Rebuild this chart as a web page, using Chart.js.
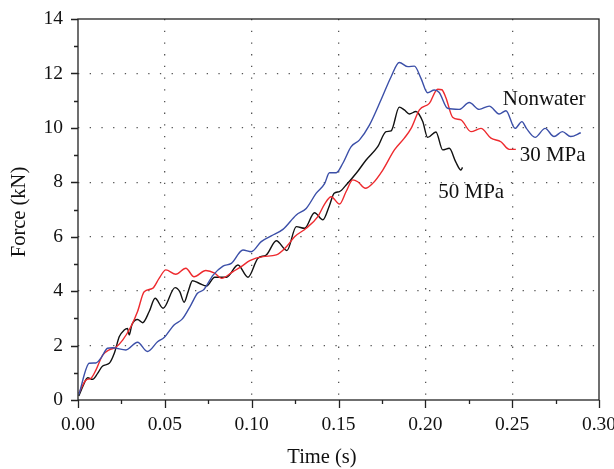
<!DOCTYPE html>
<html>
<head>
<meta charset="utf-8">
<script src="https://cdn.jsdelivr.net/npm/chart.js@4.4.1/dist/chart.umd.min.js"></script>
<style>
  html, body { margin: 0; padding: 0; background: #fff; }
  #wrap { width: 614px; height: 469px; }
</style>
</head>
<body>
<div id="wrap"><canvas id="forceChart" width="614" height="469"></canvas></div>
<script>
// Nonwater (blue)
const nonwaterTime = [0.0005, 0.0065, 0.0103, 0.0132, 0.017, 0.020, 0.0276, 0.0343, 0.040, 0.0458, 0.0496, 0.0553, 0.0601, 0.065, 0.0688, 0.0725, 0.0778, 0.0835, 0.0883, 0.095, 0.0998, 0.1055, 0.1113, 0.118, 0.1257, 0.1314, 0.1372, 0.142, 0.1448, 0.1487, 0.1525, 0.1573, 0.162, 0.1678, 0.1745, 0.1803, 0.185, 0.190, 0.1937, 0.1975, 0.2013, 0.2052, 0.208, 0.2128, 0.2195, 0.2253, 0.231, 0.2368, 0.2425, 0.2464, 0.2517, 0.2556, 0.2582, 0.2632, 0.269, 0.2741, 0.2789, 0.2837, 0.2895];
const nonwaterForce = [0.2, 1.35, 1.36, 1.54, 1.9, 1.92, 1.84, 2.12, 1.78, 2.14, 2.3, 2.76, 2.98, 3.49, 3.92, 4.06, 4.59, 4.92, 5.02, 5.51, 5.45, 5.82, 6.03, 6.27, 6.8, 7.04, 7.6, 7.95, 8.35, 8.35, 8.7, 9.31, 9.55, 10.1, 11.03, 11.88, 12.4, 12.25, 12.27, 11.82, 11.29, 11.39, 11.3, 10.72, 10.68, 10.93, 10.68, 10.8, 10.51, 10.63, 9.98, 10.23, 9.98, 9.65, 9.98, 9.68, 9.86, 9.68, 9.82];

// 30 MPa (red)
const mpa30Time = [0.0005, 0.0046, 0.0075, 0.0103, 0.0142, 0.018, 0.0218, 0.0257, 0.0305, 0.0343, 0.0381, 0.0429, 0.0467, 0.0506, 0.0563, 0.0621, 0.0668, 0.0736, 0.0787, 0.0826, 0.0893, 0.094, 0.0989, 0.1065, 0.1142, 0.120, 0.1247, 0.1314, 0.1381, 0.142, 0.1458, 0.1506, 0.1544, 0.1582, 0.1611, 0.1655, 0.1697, 0.1755, 0.1822, 0.1879, 0.1918, 0.1966, 0.2023, 0.2071, 0.2095, 0.2119, 0.2157, 0.2205, 0.2263, 0.232, 0.2378, 0.2435, 0.2483, 0.2521];
const mpa30Force = [0.25, 0.73, 0.8, 1.1, 1.65, 1.84, 1.94, 2.2, 2.7, 3.25, 3.98, 4.1, 4.47, 4.78, 4.62, 4.84, 4.53, 4.76, 4.66, 4.47, 4.72, 4.9, 5.12, 5.27, 5.33, 5.63, 6.0, 6.31, 6.74, 7.2, 7.47, 7.2, 7.66, 8.09, 8.02, 7.78, 7.96, 8.45, 9.19, 9.62, 9.98, 10.66, 10.9, 11.42, 11.4, 11.1, 10.39, 10.29, 9.86, 9.98, 9.62, 9.49, 9.21, 9.21];

// 50 MPa (black)
const mpa50Time = [0.0005, 0.0027, 0.0056, 0.0084, 0.0113, 0.0142, 0.018, 0.0209, 0.0238, 0.0266, 0.0285, 0.0295, 0.031, 0.0343, 0.0372, 0.041, 0.0444, 0.049, 0.0559, 0.0586, 0.0611, 0.0635, 0.0659, 0.0697, 0.074, 0.0787, 0.0855, 0.0921, 0.0979, 0.1036, 0.1084, 0.1142, 0.1203, 0.1257, 0.1305, 0.1362, 0.141, 0.1448, 0.1475, 0.1506, 0.1544, 0.1602, 0.1659, 0.1726, 0.1774, 0.1803, 0.185, 0.1879, 0.1908, 0.1946, 0.1985, 0.2013, 0.2061, 0.210, 0.2138, 0.2175, 0.2205, 0.2214];
const mpa50Force = [0.15, 0.49, 0.82, 0.76, 0.98, 1.25, 1.35, 1.72, 2.33, 2.57, 2.63, 2.39, 2.76, 2.96, 2.84, 3.25, 3.74, 3.37, 4.13, 3.98, 3.59, 4.0, 4.38, 4.29, 4.19, 4.51, 4.51, 4.96, 4.51, 5.21, 5.33, 5.85, 5.49, 6.37, 6.31, 6.88, 6.62, 7.15, 7.6, 7.66, 7.9, 8.33, 8.82, 9.31, 9.86, 9.89, 10.76, 10.66, 10.51, 10.6, 10.23, 9.65, 9.85, 9.19, 9.25, 8.75, 8.45, 8.55];

const seriesNames = ['Nonwater', '30 MPa', '50 MPa'];
// label anchors, in data units (time, force)
const labelTime = [0.2684, 0.2733, 0.2264];
const labelForce = [11.03, 9.0, 7.64];

const xTickLabels = ['0.00', '0.05', '0.10', '0.15', '0.20', '0.25', '0.30'];
const yTickLabels = ['0', '2', '4', '6', '8', '10', '12', '14'];

const serif = '"Liberation Serif", "DejaVu Serif", serif';

function toPoints(ts, fs) {
  return ts.map((t, i) => ({ x: t, y: fs[i] }));
}

function isMajorX(v) {
  const r = v / 0.05;
  return Math.abs(r - Math.round(r)) < 1e-6;
}

// frame, tick marks, axis titles and curve labels
const framePlugin = {
  id: 'frame',
  afterDraw(chart) {
    const { ctx, chartArea: a, scales: { x, y } } = chart;
    ctx.save();
    ctx.strokeStyle = '#222';
    ctx.lineWidth = 1.3;
    ctx.strokeRect(a.left, a.top, a.right - a.left, a.bottom - a.top);

    ctx.beginPath();
    for (let i = 0; i <= 12; i++) {
      const v = i * 0.025;
      const px = Math.round(x.getPixelForValue(v)) + 0.5;
      ctx.moveTo(px, a.bottom);
      ctx.lineTo(px, a.bottom + (i % 2 === 0 ? 8 : 4));
    }
    for (let i = 0; i <= 14; i++) {
      const py = Math.round(y.getPixelForValue(i)) + 0.5;
      ctx.moveTo(a.left, py);
      ctx.lineTo(a.left - (i % 2 === 0 ? 7 : 4), py);
    }
    ctx.stroke();

    ctx.fillStyle = '#111';
    ctx.font = '20.5px ' + serif;
    ctx.textAlign = 'center';
    ctx.textBaseline = 'alphabetic';
    ctx.fillText('Time (s)', 322, 463);

    ctx.save();
    ctx.translate(25, 212);
    ctx.rotate(-Math.PI / 2);
    ctx.fillText('Force (kN)', 0, 0);
    ctx.restore();

    ctx.font = '21px ' + serif;
    ctx.textBaseline = 'middle';
    seriesNames.forEach((name, i) => {
      ctx.fillText(name, x.getPixelForValue(labelTime[i]), y.getPixelForValue(labelForce[i]));
    });
    ctx.restore();
  }
};

const lineStyle = {
  borderWidth: 1.4,
  pointRadius: 0,
  fill: false,
  cubicInterpolationMode: 'monotone'
};

new Chart(document.getElementById('forceChart'), {
  type: 'line',
  data: {
    datasets: [
      Object.assign({ label: seriesNames[0], data: toPoints(nonwaterTime, nonwaterForce), borderColor: '#3b4fa8' }, lineStyle),
      Object.assign({ label: seriesNames[1], data: toPoints(mpa30Time, mpa30Force), borderColor: '#ee2a2e' }, lineStyle),
      Object.assign({ label: seriesNames[2], data: toPoints(mpa50Time, mpa50Force), borderColor: '#111111' }, lineStyle)
    ]
  },
  options: {
    responsive: false,
    animation: false,
    layout: { padding: { top: 19, right: 15, left: 0, bottom: 0 } },
    plugins: { legend: { display: false }, tooltip: { enabled: false } },
    scales: {
      x: {
        type: 'linear',
        min: 0,
        max: 0.3,
        afterFit: s => { s.height = 69; s.paddingLeft = 0; s.paddingRight = 0; },
        grid: {
          drawTicks: false,
          lineWidth: 1.3,
          color: c => (c.tick && isMajorX(c.tick.value) && c.tick.value > 0.001 && c.tick.value < 0.299) ? '#555' : 'rgba(0,0,0,0)'
        },
        border: { display: false, dash: [1.3, 10.4] },
        ticks: {
          stepSize: 0.025,
          padding: 13,
          color: '#111',
          font: { family: serif, size: 19.5 },
          maxRotation: 0,
          autoSkip: false,
          callback: v => isMajorX(v) ? xTickLabels[Math.round(v / 0.05)] : ''
        }
      },
      y: {
        min: 0,
        max: 14,
        afterFit: s => { s.width = 78; s.paddingTop = 0; s.paddingBottom = 0; },
        grid: {
          drawTicks: false,
          lineWidth: 1.3,
          color: c => (c.tick && c.tick.value % 2 === 0 && c.tick.value > 0 && c.tick.value < 14) ? '#555' : 'rgba(0,0,0,0)'
        },
        border: { display: false, dash: [1.3, 10.4] },
        ticks: {
          stepSize: 1,
          padding: 15,
          color: '#111',
          font: { family: serif, size: 19.5 },
          autoSkip: false,
          callback: v => v % 2 === 0 ? yTickLabels[v / 2] : ''
        }
      }
    }
  },
  plugins: [framePlugin]
});
</script>
</body>
</html>
